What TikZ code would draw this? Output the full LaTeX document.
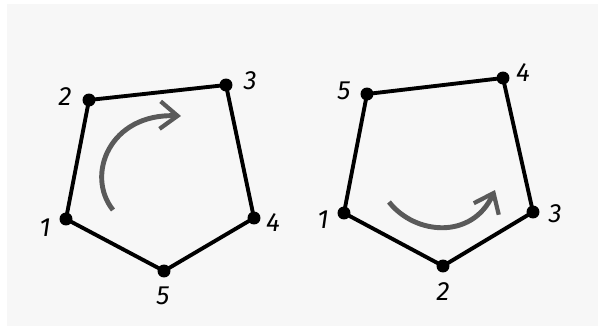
\documentclass[tikz,border=0pt]{standalone}
\usepackage{fontspec}
\setmainfont{Fira Sans}
\usetikzlibrary{arrows.meta}

\tikzset{
  vertex/.style={circle, fill=black, inner sep=0pt, minimum size=0.26cm},
  lbl/.style={font=\fontsize{15}{15}\selectfont\itshape},
  edge/.style={line width=2.2pt, line join=round, draw=black},
  turn/.style={line width=2.8pt, draw=arrowgray, -{Straight Barb[length=3.5mm,width=5.5mm,line width=2.4pt]}}
}
\definecolor{arrowgray}{HTML}{5A5A5A}
\definecolor{paper}{HTML}{F7F7F7}

\begin{document}
\begin{tikzpicture}[x=0.02cm, y=-0.02cm]
  \useasboundingbox (0,0) rectangle (600,335);
  \fill[paper] (7,4) rectangle (598,326);

  % left pentagon, clockwise
  \node[vertex] (a1) at (66,219) {};
  \node[vertex] (a2) at (89,100) {};
  \node[vertex] (a3) at (226,85) {};
  \node[vertex] (a4) at (254,218) {};
  \node[vertex] (a5) at (164,271) {};
  \draw[edge] (a1.center) -- (a2.center) -- (a3.center) -- (a4.center) -- (a5.center) -- cycle;
  \node[lbl] at (45,228) {1};
  \node[lbl] at (65,97) {2};
  \node[lbl] at (250,81) {3};
  \node[lbl] at (273,223) {4};
  \node[lbl] at (163,296) {5};
  \coordinate (s1) at (113,210);
  \coordinate (e1) at (181,116);
  \draw[turn] (s1) .. controls (85,175) and (110,113) .. (e1);

  % right pentagon, counterclockwise
  \node[vertex] (b1) at (344,213) {};
  \node[vertex] (b2) at (443,266) {};
  \node[vertex] (b3) at (533,212) {};
  \node[vertex] (b4) at (503,78) {};
  \node[vertex] (b5) at (367,94) {};
  \draw[edge] (b1.center) -- (b2.center) -- (b3.center) -- (b4.center) -- (b5.center) -- cycle;
  \node[lbl] at (323,220) {1};
  \node[lbl] at (443,292) {2};
  \node[lbl] at (555,214) {3};
  \node[lbl] at (523,73) {4};
  \node[lbl] at (344,91) {5};
  \coordinate (s2) at (389,202);
  \coordinate (e2) at (495,190);
  \draw[turn] (s2) .. controls (415,235) and (472,240) .. (e2);
\end{tikzpicture}
\end{document}
